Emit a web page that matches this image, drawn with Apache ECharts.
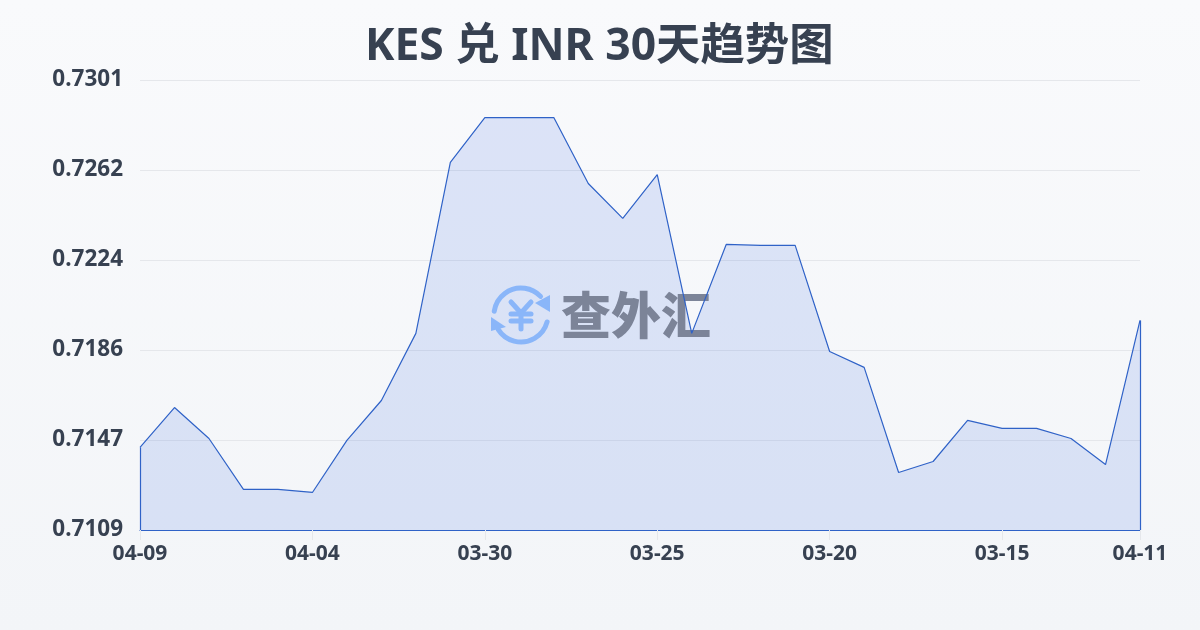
<!DOCTYPE html>
<html><head><meta charset="utf-8">
<style>html,body{margin:0;padding:0;width:1200px;height:630px;overflow:hidden;background:linear-gradient(180deg,#f9fafc 0%,#f3f5f8 100%)}#c{width:1200px;height:630px}</style>
<script src="https://cdn.jsdelivr.net/npm/echarts@6/dist/echarts.min.js"></script>
</head><body><div id="c"></div>
<script>
const titleText = 'KES 兑 INR 30天趋势图';
const categories = ['04-09','04-08','04-07','04-06','04-05','04-04','04-03','04-02','04-01','03-31','03-30','03-29','03-28','03-27','03-26','03-25','03-24','03-23','03-22','03-21','03-20','03-19','03-18','03-17','03-16','03-15','03-14','03-13','03-12','04-11'];
const values = [0.71442,0.71612,0.71480,0.71263,0.71263,0.71250,0.71472,0.71642,0.71928,0.72657,0.72848,0.72848,0.72848,0.72567,0.72418,0.72605,0.71928,0.72307,0.72303,0.72303,0.71851,0.71783,0.71335,0.71382,0.71557,0.71523,0.71523,0.71480,0.71369,0.71983];
const shownLabels = [0,5,10,15,20,25,29];
const yMin = 0.7109, yMax = 0.73008, yStep = 0.003836;
const font = '"Noto Sans","Noto Sans CJK SC",sans-serif';
const chart = echarts.init(document.getElementById('c'), null, {renderer:'canvas'});
const blue = '#2f62c7', arcC = '#8ab6f9';
const wm = (o)=>Object.assign({z:3,silent:true},o);
const yenLine = {stroke:arcC,lineWidth:5,lineCap:'round',lineJoin:'round',fill:null};
chart.setOption({
  animation:false,
  backgroundColor:'transparent',
  title:{text:titleText,left:365,top:25,padding:0,textStyle:{fontFamily:font,fontSize:44.4,fontWeight:'bold',color:'#374151'}},
  grid:{left:140,right:60,top:80,bottom:100,containLabel:false},
  xAxis:{type:'category',data:categories,boundaryGap:false,
    axisLine:{show:true,lineStyle:{color:blue,width:1.2}},
    axisTick:{show:true,length:10,lineStyle:{color:'#e5e7eb'},interval:(i)=>shownLabels.includes(i)},
    axisLabel:{interval:(i)=>shownLabels.includes(i),showMinLabel:true,showMaxLabel:true,hideOverlap:false,margin:14,fontFamily:font,fontSize:21,fontWeight:'bold',color:'#374151'},
    splitLine:{show:false}},
  yAxis:{type:'value',min:yMin,max:yMax,interval:yStep,
    axisLine:{show:false},axisTick:{show:false},
    axisLabel:{margin:17,fontFamily:font,fontSize:22.5,fontWeight:'bold',color:'#374151',verticalAlignMinLabel:'middle',verticalAlignMaxLabel:'middle',formatter:(v)=>v.toFixed(4),padding:[0,0,4,0]},
    splitLine:{show:true,lineStyle:{color:'#e5e7eb',width:1}}},
  graphic:{elements:[
    wm({type:'text',style:{x:636,y:315,text:'查外汇',align:'center',verticalAlign:'middle',font:'900 50px "Noto Sans CJK SC"',fill:'#7c8498'}}),
    wm({type:'polyline',shape:{points:[[511,302],[521,313],[531,302]]},style:yenLine}),
    wm({type:'line',shape:{x1:511,y1:314,x2:531,y2:314},style:yenLine}),
    wm({type:'line',shape:{x1:511,y1:321,x2:531,y2:321},style:yenLine}),
    wm({type:'line',shape:{x1:521,y1:313,x2:521,y2:329},style:yenLine}),
    wm({type:'arc',shape:{cx:521,cy:315,r:27,startAngle:-3.0,endAngle:-0.76},style:{stroke:arcC,lineWidth:5,fill:null,lineCap:'round'}}),
    wm({type:'arc',shape:{cx:521,cy:315,r:27,startAngle:0.26,endAngle:2.58},style:{stroke:arcC,lineWidth:5,fill:null,lineCap:'round'}}),
    wm({type:'polygon',shape:{points:[[550,295],[550,312],[535,303]]},style:{fill:arcC}}),
    wm({type:'polygon',shape:{points:[[491,317],[491,331],[506,327]]},style:{fill:arcC}})
  ]},
  series:[{
    type:'line',data:values,symbol:'none',smooth:false,z:2,
    lineStyle:{width:0,opacity:0},
    areaStyle:{color:'rgba(50,100,225,0.2)',origin:'start'}
  },{
    type:'line',data:values,symbol:'none',smooth:false,z:4,
    lineStyle:{color:blue,width:1.2},
    markLine:{silent:true,symbol:'none',label:{show:false},lineStyle:{color:blue,width:1.2,type:'solid'},
      data:[
        [{xAxis:categories[0],yAxis:yMin},{xAxis:categories[0],yAxis:values[0]}],
        [{xAxis:categories[categories.length-1],yAxis:yMin},{xAxis:categories[categories.length-1],yAxis:values[values.length-1]}]
      ]}
  }]
});
</script></body></html>
